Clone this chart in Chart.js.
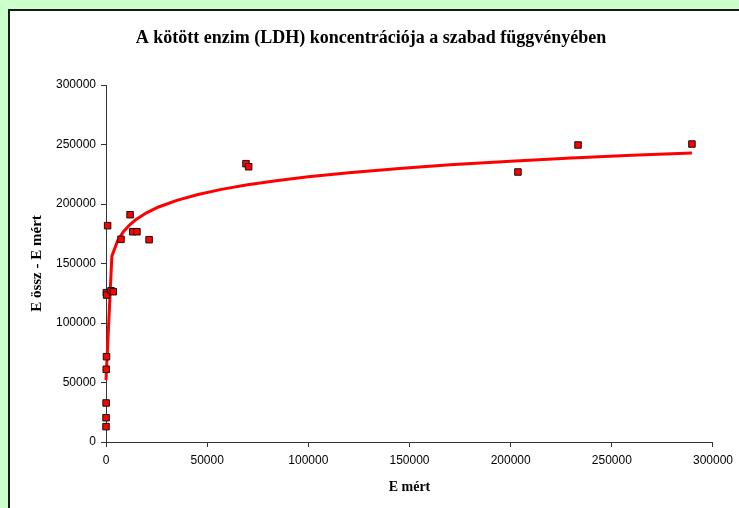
<!DOCTYPE html>
<html>
<head>
<meta charset="utf-8">
<script src="https://cdn.jsdelivr.net/npm/chart.js@4.4.1/dist/chart.umd.min.js"></script>
<style>
html, body { margin:0; padding:0; background:#ccffcc; overflow:hidden; }
#frame { position:absolute; left:8px; top:9px; width:760px; height:540px; border:2px solid #1a1a1a; background:#fff; }
#wrap { position:absolute; left:0; top:0; width:739px; height:508px; }
</style>
</head>
<body>
<div id="frame"></div>
<div id="wrap"><canvas id="enzimChart" width="739" height="508"></canvas></div>
<script>
// measured points: free enzyme (E mért) vs bound (E össz - E mért)
const freeE  = [10, 30, 60, 120, 250, 200, 300, 2500, 3600, 800, 7400, 11900, 13200, 15300, 21300, 69200, 70500, 203600, 233300, 289600];
const boundE = [12900, 20400, 32800, 61100, 71700, 125500, 123500, 127100, 126300, 181800, 170300, 191000, 176700, 176700, 170000, 233900, 231300, 226900, 249600, 250400];

// logarithmic trendline
const trendX = [11, 2900, 5800, 8700, 11600, 14500, 20000, 26000, 35000, 45000, 57000, 70000, 85000, 100000, 120000, 145000, 170000, 200000, 230000, 260000, 289600];
const trendY = [52000, 156200, 169300, 176900, 182300, 186500, 192600, 197500, 203100, 207800, 212300, 216200, 219800, 222900, 226300, 229900, 232900, 235900, 238600, 240900, 242900];

const axisTicks = [0, 50000, 100000, 150000, 200000, 250000, 300000];

const chartTitle = 'A kötött enzim (LDH) koncentrációja a szabad függvényében';

const tickFont = { family: 'Liberation Sans', size: 12 };

const points = freeE.map((x, i) => ({ x: x, y: boundE[i] }));
const trend = trendX.map((x, i) => ({ x: x, y: trendY[i] }));

// title drawn centred on the whole frame, like the Excel original
const titlePlugin = {
    id: 'frameTitle',
    afterDraw(chart) {
        const c = chart.ctx;
        c.save();
        c.font = 'bold 18px "Liberation Serif"';
        c.fillStyle = '#000';
        c.textAlign = 'center';
        c.textBaseline = 'middle';
        c.fillText(chartTitle, 371, 38);
        c.restore();
    }
};

const ctx = document.getElementById('enzimChart').getContext('2d');
new Chart(ctx, {
    type: 'scatter',
    data: {
        datasets: [{
            label: 'mért',
            data: points,
            pointStyle: 'rect',
            pointRadius: 4.6,
            backgroundColor: '#ff0000',
            borderColor: '#111',
            borderWidth: 1,
            clip: 8,
            order: 1
        }, {
            label: 'trend',
            data: trend,
            showLine: true,
            pointRadius: 0,
            borderColor: '#ff0000',
            borderWidth: 3,
            tension: 0,
            clip: 4,
            order: 2
        }]
    },
    options: {
        responsive: false,
        animation: false,
        layout: { padding: { left: 10, top: 85, right: 26, bottom: 0 } },
        plugins: {
            legend: { display: false },
            tooltip: { enabled: false },
            title: { display: false }
        },
        scales: {
            x: {
                type: 'linear',
                min: axisTicks[0],
                max: axisTicks[axisTicks.length - 1],
                afterBuildTicks: s => { s.ticks = axisTicks.map(v => ({ value: v })); },
                ticks: { callback: v => v, font: tickFont, color: '#000', padding: 6, maxRotation: 0 },
                grid: { drawOnChartArea: false, tickLength: 5, tickColor: '#333' },
                border: { color: '#333' },
                title: { display: true, text: 'E mért', font: { family: 'Liberation Serif', size: 14, weight: 'bold' }, color: '#000', padding: { top: 0, bottom: 12 } },
                afterFit: s => { s.height = 66; }
            },
            y: {
                type: 'linear',
                min: axisTicks[0],
                max: axisTicks[axisTicks.length - 1],
                afterBuildTicks: s => { s.ticks = axisTicks.map(v => ({ value: v })); },
                ticks: { callback: v => v, font: tickFont, color: '#000', padding: 5 },
                grid: { drawOnChartArea: false, tickLength: 5, tickColor: '#333' },
                border: { color: '#333' },
                title: { display: true, text: 'E össz - E mért', font: { family: 'Liberation Serif', size: 15, weight: 'bold' }, color: '#000', padding: { top: 18, bottom: 0 } },
                afterFit: s => { s.width = 96; }
            }
        }
    },
    plugins: [titlePlugin]
});
</script>
</body>
</html>
